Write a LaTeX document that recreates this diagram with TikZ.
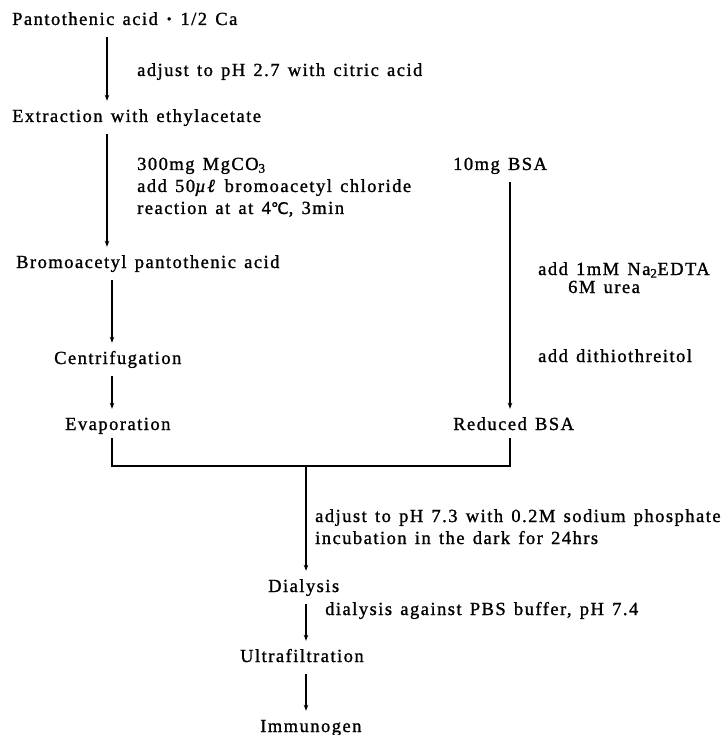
\documentclass[tikz,border=0pt]{standalone}
\usepackage{fontspec}
\setmainfont[LetterSpace=8,WordSpace=1.35,FakeBold=1.2,ItalicFeatures={FakeBold=1.2}]{Liberation Serif}
\newfontfamily\symfnt[LetterSpace=8,FakeBold=1]{DejaVu Sans}
\usetikzlibrary{arrows.meta}
\begin{document}
\begin{tikzpicture}[x=1pt,y=-1pt,
  txt/.style={anchor=base west,inner sep=0pt,text height=13pt,text depth=4pt,font=\fontsize{18.5}{21}\selectfont},
  lbl/.style={anchor=base west,inner sep=0pt,align=left,font=\fontsize{18.5}{22}\selectfont},
  arr/.style={line width=1.3pt,-{Stealth[length=6pt,width=4.5pt]},shorten <=8pt,shorten >=8pt},
  ln/.style={line width=1.3pt}]
\useasboundingbox (0,0) rectangle (723,735);
% columns
\coordinate (c1) at (107,0);
\coordinate (c2) at (112,0);
\coordinate (c3) at (510,0);
\coordinate (c4) at (306,0);
% main steps
\node[txt] (pa) at (12,25) {Pantothenic acid {\bfseries·} 1/2 Ca};
\node[txt] (ex) at (12,122) {Extraction with ethylacetate};
\node[txt] (br) at (16,268) {Bromoacetyl pantothenic acid};
\node[txt] (ce) at (54,364) {Centrifugation};
\node[txt] (ev) at (65,430) {Evaporation};
\node[txt] (bsa) at (453,170) {10mg BSA};
\node[txt] (rb) at (453,430) {Reduced BSA};
\node[txt] (di) at (268,592) {Dialysis};
\node[txt] (uf) at (240,662) {Ultrafiltration};
\node[txt] (im) at (260,732) {Immunogen};
% step labels
\node[lbl] (l1) at (137,76) {adjust to pH 2.7 with citric acid};
\node[lbl] (l2a) at (137,170) {300mg MgCO\textsubscript{3}};
\node[lbl] (l2b) at (137,192) {add 50\textit{µℓ} bromoacetyl chloride};
\node[lbl] (l2c) at (137,214) {reaction at at 4{\symfnt\fontsize{16}{20}\selectfont ℃}, 3min};
\node[lbl] (l3a) at (538,275) {add 1mM Na\textsubscript{2}EDTA};
\node[lbl] (l3b) at (568,293) {6M urea};
\node[lbl] (l3c) at (538,362) {add dithiothreitol};
\node[lbl] (l4a) at (315,522) {adjust to pH 7.3 with 0.2M sodium phosphate};
\node[lbl] (l4b) at (315,544) {incubation in the dark for 24hrs};
\node[lbl] (l5) at (325,615) {dialysis against PBS buffer, pH 7.4};
% junction
\coordinate (jl) at (112,466);
\coordinate (jr) at (510,466);
\coordinate (jc) at (306,466);
% connectors
\draw[arr] (pa.south -| c1) -- (ex.north -| c1);
\draw[arr] (ex.south -| c1) -- (br.north -| c1);
\draw[arr] (br.south -| c2) -- (ce.north -| c2);
\draw[arr] (ce.south -| c2) -- (ev.north -| c2);
\draw[arr] (bsa.south -| c3) -- (rb.north -| c3);
\draw[ln] ([yshift=-4pt]ev.south -| c2) -- (jl) -- (jr) -- ([yshift=-4pt]rb.south -| c3);
\draw[arr,shorten <=0pt] (jc) -- (di.north -| c4);
\draw[arr] (di.south -| c4) -- (uf.north -| c4);
\draw[arr] (uf.south -| c4) -- (im.north -| c4);
\end{tikzpicture}
\end{document}
